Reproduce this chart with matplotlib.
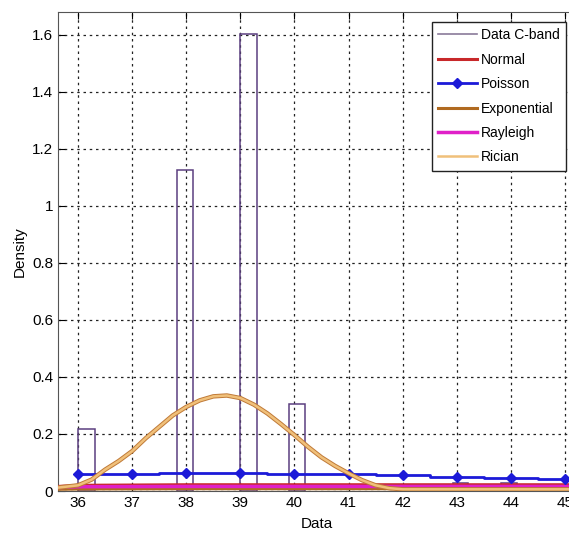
import matplotlib.pyplot as plt
from matplotlib.lines import Line2D

plt.rcParams['font.family'] = ['Liberation Sans', 'DejaVu Sans']

# histogram of the C-band data (bin left edge, width, density)
bar_left = [36.0, 37.82, 39.0, 39.89, 42.93, 43.82]
bar_width = [0.31, 0.31, 0.31, 0.31, 0.28, 0.29]
bar_density = [0.218, 1.126, 1.604, 0.305, 0.028, 0.028]

# poisson fit, evaluated at integers
pois_x = [36, 37, 38, 39, 40, 41, 42, 43, 44, 45]
pois_y = [0.060, 0.061, 0.062, 0.062, 0.061, 0.059, 0.056, 0.048, 0.045, 0.042]

# rician fit
ric_x = [35.63, 36.0, 36.25, 36.5, 36.75, 37.0, 37.25, 37.5, 37.75, 38.0, 38.25,
         38.5, 38.75, 39.0, 39.25, 39.5, 39.75, 40.0, 40.25, 40.5, 40.75, 41.0,
         41.25, 41.5, 41.75, 42.0, 43.0, 44.0, 45.2]
ric_y = [0.012, 0.02, 0.04, 0.075, 0.105, 0.14, 0.185, 0.225, 0.265, 0.295, 0.318,
         0.332, 0.335, 0.326, 0.303, 0.272, 0.235, 0.196, 0.155, 0.118, 0.088, 0.062,
         0.038, 0.02, 0.01, 0.006, 0.006, 0.006, 0.006]

# near-flat fits along the bottom
flat_x = [35.63, 36.0, 38.0, 40.0, 42.0, 44.0, 45.2]
normal_y = [0.016, 0.020, 0.022, 0.022, 0.022, 0.022, 0.022]
rayleigh_y = [0.012, 0.015, 0.016, 0.016, 0.016, 0.016, 0.016]
expo_y = [0.006, 0.007, 0.008, 0.008, 0.008, 0.008, 0.008]

fig = plt.figure(figsize=(5.69, 5.34), dpi=100)
ax = fig.add_axes([0.102, 0.0805, 0.91, 0.897])

ax.bar(bar_left, bar_density, width=bar_width, align='edge', fill=False,
       edgecolor='#5b3f80', linewidth=1.1, zorder=3)
h_norm, = ax.plot(flat_x, normal_y, color='#c8282a', lw=2.2, zorder=4)
h_pois, = ax.plot(pois_x, pois_y, color='#1c1ad8', lw=2, marker='D', ms=5,
                  drawstyle='steps-mid', zorder=5)
h_exp, = ax.plot(flat_x, expo_y, color='#b06a20', lw=2.2, zorder=4)
h_ray, = ax.plot(flat_x, rayleigh_y, color='#e020c8', lw=2.5, zorder=4)
ax.plot(ric_x, ric_y, color='#c07a38', lw=3.2, zorder=5)
h_ric, = ax.plot(ric_x, ric_y, color='#f0c07a', lw=1.8, zorder=6)
h_data = Line2D([], [], color='#8a7a9a', lw=1.2)

ax.set_xlim(35.63, 45.2)
ax.set_ylim(0, 1.68)
ax.set_xticks(range(36, 46))
ax.set_yticks([0, 0.2, 0.4, 0.6, 0.8, 1, 1.2, 1.4, 1.6])
ax.set_yticklabels(['0', '0.2', '0.4', '0.6', '0.8', '1', '1.2', '1.4', '1.6'])
ax.grid(True, color='#222222', linestyle=(0, (2, 3)), linewidth=0.9)
ax.tick_params(direction='in', top=True, right=True, labelsize=11, length=5)
for s in ax.spines.values():
    s.set_color('#555555')
ax.set_xlabel('Data', fontsize=11, labelpad=5)
ax.set_ylabel('Density', fontsize=11)

leg = ax.legend([h_data, h_norm, h_pois, h_exp, h_ray, h_ric],
                ['Data C-band', 'Normal', 'Poisson', 'Exponential', 'Rayleigh', 'Rician'],
                loc='upper right', bbox_to_anchor=(566 / 569, 1 - 22 / 534),
                bbox_transform=fig.transFigure, fontsize=10, fancybox=False,
                framealpha=1, edgecolor='#222222', handlelength=2.8,
                borderpad=0.45, labelspacing=0.75, handletextpad=0.3,
                borderaxespad=0)
leg.get_frame().set_linewidth(1.0)

fig.savefig('out.png', dpi=100)
